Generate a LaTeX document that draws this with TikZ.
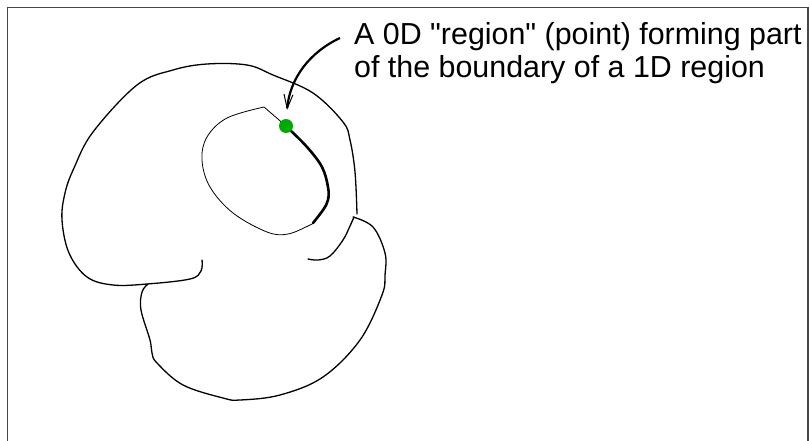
\documentclass[tikz,border=0pt]{standalone}
\usepackage{fontspec}
\setmainfont{Liberation Sans}[Ligatures=TeXOff]
\usetikzlibrary{arrows.meta}
\definecolor{dotgreen}{RGB}{0,170,0}
\definecolor{framegray}{RGB}{70,70,70}
\tikzset{
  outline/.style={line width=1.3pt, line cap=round, line join=round},
  thinline/.style={line width=0.8pt, line cap=round, line join=round},
  thickline/.style={line width=2.6pt, line cap=round},
  pointer/.style={line width=2.2pt, -{Straight Barb[length=14pt,width=9pt,line width=1pt]}},
  label/.style={font=\fontsize{30.4}{33}\selectfont, anchor=base west, inner sep=0pt, align=left}
}
\begin{document}
\begin{tikzpicture}[x=1pt,y=-1pt]
\useasboundingbox (0,0) rectangle (810,441);
\draw[framegray, line width=1.5pt] (7.5,441) -- (7.5,7.5) -- (808,7.5) -- (808,441);
% upper blob
\draw[outline] plot[smooth, tension=0.6] coordinates {(202,260) (201,271) (190,279) (147,284) (113,285) (87,277) (69,253) (62,220) (65,193) (74,168) (93,132) (137,85) (173,70) (207,64) (247,65) (273,75) (313,93) (343,122) (350,140) (355,172) (357,214)};
% lower blob
\draw[outline] plot[smooth, tension=0.6] coordinates {(308,259) (318,260) (330,256) (343,240) (350,226) (354,217)};
\draw[outline] plot[smooth, tension=0.6] coordinates {(353,217) (373,227) (385,253) (385,275) (382,295) (360,340) (323,377) (280,395) (240,400) (223,398) (183,385) (157,363) (152,353) (150,340) (141,310) (142,292) (148,284)};
% inner thin loop
\draw[thinline] (286,126) -- (264,107) plot[smooth, tension=0.6] coordinates {(264,107) (227,118) (207,137) (202,160) (210,187) (233,213) (267,232) (288,234) (310,225) (313,223)};
% thick 1D region
\draw[thickline] plot[smooth, tension=0.6] coordinates {(290,130) (307,147) (322,167) (328,187) (328,200) (323,210) (313,223)};
% point
\fill[dotgreen] (286,126) circle (7);
\coordinate (tip) at (287,110);
\node[label] (txt) at (354,78) {A 0D "region" (point) forming part\\of the boundary of a 1D region};
\coordinate (start) at (340,38);
\draw[pointer] (start) .. controls (310,52) and (290,78) .. (tip);
\end{tikzpicture}
\end{document}
